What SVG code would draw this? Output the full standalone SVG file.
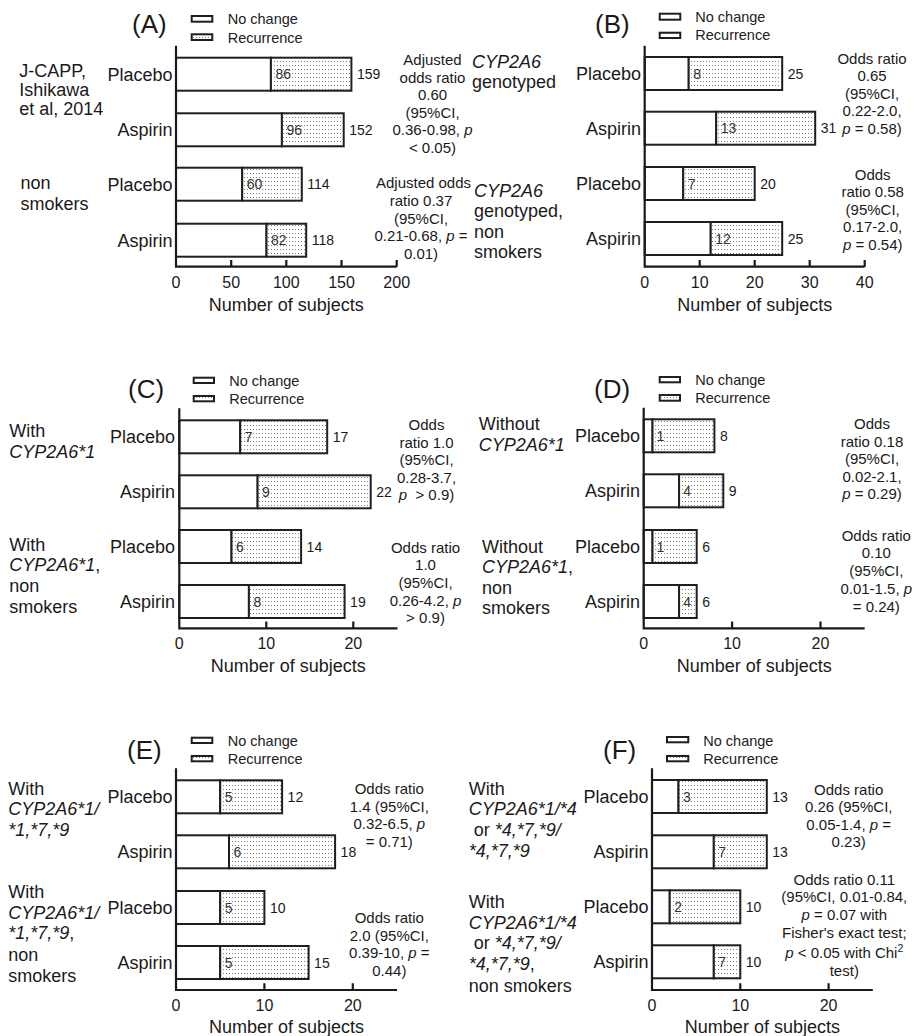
<svg xmlns="http://www.w3.org/2000/svg" width="916" height="1036" viewBox="0 0 916 1036">
<style>
text{font-family:"Liberation Sans",Arial,sans-serif;fill:#1a1a1a}
.ttl{font-size:26px}
.leg{font-size:14.5px;fill:#222}
.cat{font-size:18px;text-anchor:end}
.vin{font-size:14px;fill:#333}
.vt{font-size:14px}
.tk{font-size:16px;text-anchor:middle}
.xl{font-size:18px;text-anchor:middle}
.grp{font-size:18px}
.ann{font-size:15px;text-anchor:middle}
.i{font-style:italic}
.ax{stroke:#1a1a1a;stroke-width:2.2;fill:none}
.nc{fill:#fff;stroke:#1f1f1f;stroke-width:2}
.rc{fill:url(#dots);stroke:#1f1f1f;stroke-width:2}
</style>
<defs>
<pattern id="dots" patternUnits="userSpaceOnUse" width="3" height="4">
<rect width="3" height="4" fill="#fff"/>
<rect x="1" y="1" width="1" height="1" fill="#808080"/>
</pattern>
</defs>
<rect width="916" height="1036" fill="#fff"/>

<!-- Panel A -->
<g id="panel-A">
<text class="ttl" x="132" y="33.3">(A)</text>
<g id="legend-A">
<rect class="nc" x="191.7" y="16" width="20.6" height="5.7"/>
<rect class="rc" x="191.7" y="34.3" width="20.6" height="5.7"/>
<text class="leg" x="227.7" y="24.3">No change</text>
<text class="leg" x="227.7" y="42.7">Recurrence</text>
</g>
<g id="bars-A">
<rect class="nc" x="176" y="57.7" width="94.9" height="33"/><rect class="rc" x="270.9" y="57.7" width="80.5" height="33"/>
<rect class="nc" x="176" y="113.3" width="105.9" height="33"/><rect class="rc" x="281.9" y="113.3" width="61.8" height="33"/>
<rect class="nc" x="176" y="167.7" width="66.2" height="33"/><rect class="rc" x="242.2" y="167.7" width="59.6" height="33"/>
<rect class="nc" x="176" y="223.7" width="90.5" height="33"/><rect class="rc" x="266.5" y="223.7" width="39.7" height="33"/>
<text class="vin" x="275.4" y="79.2">86</text><text class="vt" x="356.9" y="79.2">159</text>
<text class="vin" x="286.4" y="134.8">96</text><text class="vt" x="349.2" y="134.8">152</text>
<text class="vin" x="246.7" y="189.2">60</text><text class="vt" x="307.3" y="189.2">114</text>
<text class="vin" x="271" y="245.2">82</text><text class="vt" x="311.7" y="245.2">118</text>
</g>
<g id="axes-A">
<path class="ax" d="M176 45.7V266.7H396.7M231.2 266.7v-6.7M286.3 266.7v-6.7M341.5 266.7v-6.7M396.7 266.7v-6.7"/>
<text class="tk" x="176" y="288.3">0</text><text class="tk" x="231.2" y="288.3">50</text><text class="tk" x="286.3" y="288.3">100</text><text class="tk" x="341.5" y="288.3">150</text><text class="tk" x="396.7" y="288.3">200</text>
<text class="xl" x="286.3" y="310.5">Number of subjects</text>
</g>
<text class="cat" x="172.5" y="80.7">Placebo</text>
<text class="cat" x="172.5" y="136.3">Aspirin</text>
<text class="cat" x="172.5" y="190.7">Placebo</text>
<text class="cat" x="172.5" y="246.7">Aspirin</text>
<text class="grp" x="19.3" y="76.5">J-CAPP,</text>
<text class="grp" x="19.3" y="95.5">Ishikawa</text>
<text class="grp" x="19.3" y="114.5">et al, 2014</text>
<text class="grp" x="20.5" y="189">non</text>
<text class="grp" x="20.5" y="210">smokers</text>
<text class="ann" x="432.5" y="65">Adjusted</text>
<text class="ann" x="432.5" y="82.6">odds ratio</text>
<text class="ann" x="432.5" y="100.2">0.60</text>
<text class="ann" x="432.5" y="117.8">(95%CI,</text>
<text class="ann" x="432.5" y="135.4">0.36-0.98, <tspan class="i">p</tspan></text>
<text class="ann" x="432.5" y="153">&lt; 0.05)</text>
<text class="ann" x="423.5" y="188.3">Adjusted odds</text>
<text class="ann" x="421" y="205.9">ratio 0.37</text>
<text class="ann" x="421" y="223.5">(95%CI,</text>
<text class="ann" x="421" y="241.1">0.21-0.68, <tspan class="i">p</tspan> =</text>
<text class="ann" x="421" y="258.7">0.01)</text>
</g>

<!-- Panel B -->
<g id="panel-B">
<text class="ttl" x="595" y="33.3">(B)</text>
<g id="legend-B">
<rect class="nc" x="659.7" y="13.7" width="20.6" height="6"/>
<rect class="rc" x="659.7" y="32.7" width="20.6" height="5.3"/>
<text class="leg" x="695.3" y="21.7">No change</text>
<text class="leg" x="695.3" y="40">Recurrence</text>
</g>
<g id="bars-B">
<rect class="nc" x="644.7" y="57" width="44" height="33"/><rect class="rc" x="688.7" y="57" width="93.5" height="33"/>
<rect class="nc" x="644.7" y="111.7" width="71.5" height="33"/><rect class="rc" x="716.2" y="111.7" width="99" height="33"/>
<rect class="nc" x="644.7" y="167" width="38.5" height="33"/><rect class="rc" x="683.2" y="167" width="71.5" height="33"/>
<rect class="nc" x="644.7" y="222" width="66" height="33"/><rect class="rc" x="710.7" y="222" width="71.5" height="33"/>
<text class="vin" x="693.2" y="78.5">8</text><text class="vt" x="787.7" y="78.5">25</text>
<text class="vin" x="720.7" y="133.2">13</text><text class="vt" x="820.7" y="133.2">31</text>
<text class="vin" x="687.7" y="188.5">7</text><text class="vt" x="760.2" y="188.5">20</text>
<text class="vin" x="715.2" y="243.5">12</text><text class="vt" x="787.7" y="243.5">25</text>
</g>
<g id="axes-B">
<path class="ax" d="M644.7 45.7V266.7H864.7M699.7 266.7v-6.7M754.7 266.7v-6.7M809.7 266.7v-6.7M864.7 266.7v-6.7"/>
<text class="tk" x="644.7" y="288.3">0</text><text class="tk" x="699.7" y="288.3">10</text><text class="tk" x="754.7" y="288.3">20</text><text class="tk" x="809.7" y="288.3">30</text><text class="tk" x="864.7" y="288.3">40</text>
<text class="xl" x="754.7" y="310.5">Number of subjects</text>
</g>
<text class="cat" x="641" y="80">Placebo</text>
<text class="cat" x="641" y="134.7">Aspirin</text>
<text class="cat" x="641" y="190">Placebo</text>
<text class="cat" x="641" y="245">Aspirin</text>
<text class="grp" x="472" y="68.3"><tspan class="i">CYP2A6</tspan></text>
<text class="grp" x="472" y="88.3">genotyped</text>
<text class="grp" x="474" y="196.7"><tspan class="i">CYP2A6</tspan></text>
<text class="grp" x="474" y="216.7">genotyped,</text>
<text class="grp" x="474" y="237.7">non</text>
<text class="grp" x="474" y="258">smokers</text>
<text class="ann" x="872" y="64">Odds ratio</text>
<text class="ann" x="872" y="81.4">0.65</text>
<text class="ann" x="872" y="98.8">(95%CI,</text>
<text class="ann" x="872" y="116.2">0.22-2.0,</text>
<text class="ann" x="872" y="133.6"><tspan class="i">p</tspan> = 0.58)</text>
<text class="ann" x="872.7" y="180">Odds</text>
<text class="ann" x="872.7" y="197.4">ratio 0.58</text>
<text class="ann" x="872.7" y="214.8">(95%CI,</text>
<text class="ann" x="872.7" y="232.2">0.17-2.0,</text>
<text class="ann" x="872.7" y="249.6"><tspan class="i">p</tspan> = 0.54)</text>
</g>

<!-- Panel C -->
<g id="panel-C">
<text class="ttl" x="128" y="398.3">(C)</text>
<g id="legend-C">
<rect class="nc" x="193.7" y="377.7" width="20.3" height="5.3"/>
<rect class="rc" x="193.7" y="396" width="20.3" height="5.3"/>
<text class="leg" x="229.3" y="386">No change</text>
<text class="leg" x="229.3" y="404">Recurrence</text>
</g>
<g id="bars-C">
<rect class="nc" x="179.3" y="420.3" width="60.9" height="33"/><rect class="rc" x="240.2" y="420.3" width="87" height="33"/>
<rect class="nc" x="179.3" y="475.3" width="78.3" height="33"/><rect class="rc" x="257.6" y="475.3" width="113.1" height="33"/>
<rect class="nc" x="179.3" y="530" width="52.2" height="33"/><rect class="rc" x="231.5" y="530" width="69.6" height="33"/>
<rect class="nc" x="179.3" y="585" width="69.6" height="33"/><rect class="rc" x="248.9" y="585" width="95.7" height="33"/>
<text class="vin" x="244.7" y="441.8">7</text><text class="vt" x="332.7" y="441.8">17</text>
<text class="vin" x="262.1" y="496.8">9</text><text class="vt" x="376.2" y="496.8">22</text>
<text class="vin" x="236" y="551.5">6</text><text class="vt" x="306.6" y="551.5">14</text>
<text class="vin" x="253.4" y="606.5">8</text><text class="vt" x="350.1" y="606.5">19</text>
</g>
<g id="axes-C">
<path class="ax" d="M179.3 408.3V628.3H397.5M266.3 628.3v-6.7M353.3 628.3v-6.7"/>
<text class="tk" x="179.3" y="649.3">0</text><text class="tk" x="266.3" y="649.3">10</text><text class="tk" x="353.3" y="649.3">20</text>
<text class="xl" x="288.3" y="672">Number of subjects</text>
</g>
<text class="cat" x="175" y="443.3">Placebo</text>
<text class="cat" x="175" y="498.3">Aspirin</text>
<text class="cat" x="175" y="553">Placebo</text>
<text class="cat" x="175" y="608">Aspirin</text>
<text class="grp" x="9.3" y="437.3">With</text>
<text class="grp" x="9.3" y="458.3"><tspan class="i">CYP2A6*1</tspan></text>
<text class="grp" x="9.3" y="550.7">With</text>
<text class="grp" x="9.3" y="571.3"><tspan class="i">CYP2A6*1</tspan>,</text>
<text class="grp" x="9.3" y="592.3">non</text>
<text class="grp" x="9.3" y="613.3">smokers</text>
<text class="ann" x="426.5" y="430">Odds</text>
<text class="ann" x="426.5" y="447.5">ratio 1.0</text>
<text class="ann" x="426.5" y="465">(95%CI,</text>
<text class="ann" x="426.5" y="482.5">0.28-3.7,</text>
<text class="ann" x="426.5" y="500" xml:space="preserve"><tspan class="i">p</tspan>  &gt; 0.9)</text>
<text class="ann" x="425.5" y="552.7">Odds ratio</text>
<text class="ann" x="425.5" y="570.3">1.0</text>
<text class="ann" x="425.5" y="588">(95%CI,</text>
<text class="ann" x="425.5" y="605.6">0.26-4.2, <tspan class="i">p</tspan></text>
<text class="ann" x="425.5" y="623.3">&gt; 0.9)</text>
</g>

<!-- Panel D -->
<g id="panel-D">
<text class="ttl" x="594" y="398.3">(D)</text>
<g id="legend-D">
<rect class="nc" x="659.7" y="377" width="20.3" height="5.3"/>
<rect class="rc" x="659.7" y="395" width="20.3" height="5.7"/>
<text class="leg" x="695.3" y="385">No change</text>
<text class="leg" x="695.3" y="402.7">Recurrence</text>
</g>
<g id="bars-D">
<rect class="nc" x="643.7" y="419.3" width="8.8" height="33"/><rect class="rc" x="652.5" y="419.3" width="61.9" height="33"/>
<rect class="nc" x="643.7" y="474.3" width="35.4" height="33"/><rect class="rc" x="679.1" y="474.3" width="44.2" height="33"/>
<rect class="nc" x="643.7" y="530" width="8.8" height="33"/><rect class="rc" x="652.5" y="530" width="44.2" height="33"/>
<rect class="nc" x="643.7" y="585" width="35.4" height="33"/><rect class="rc" x="679.1" y="585" width="17.6" height="33"/>
<text class="vin" x="656.5" y="440.8">1</text><text class="vt" x="719.9" y="440.8">8</text>
<text class="vin" x="683.3" y="495.8">4</text><text class="vt" x="728.8" y="495.8">9</text>
<text class="vin" x="656.5" y="551.5">1</text><text class="vt" x="702.2" y="551.5">6</text>
<text class="vin" x="683.3" y="606.5">4</text><text class="vt" x="702.2" y="606.5">6</text>
</g>
<g id="axes-D">
<path class="ax" d="M643.7 407.7V628.3H864.7M732.1 628.3v-6.7M820.5 628.3v-6.7"/>
<text class="tk" x="643.7" y="649.3">0</text><text class="tk" x="732.1" y="649.3">10</text><text class="tk" x="820.5" y="649.3">20</text>
<text class="xl" x="754.2" y="672">Number of subjects</text>
</g>
<text class="cat" x="640" y="442.3">Placebo</text>
<text class="cat" x="640" y="497.3">Aspirin</text>
<text class="cat" x="640" y="553">Placebo</text>
<text class="cat" x="640" y="608">Aspirin</text>
<text class="grp" x="478.7" y="430">Without</text>
<text class="grp" x="478.7" y="450.7"><tspan class="i">CYP2A6*1</tspan></text>
<text class="grp" x="482" y="552.7">Without</text>
<text class="grp" x="482" y="573.3"><tspan class="i">CYP2A6*1</tspan>,</text>
<text class="grp" x="482" y="594">non</text>
<text class="grp" x="482" y="614.3">smokers</text>
<text class="ann" x="872" y="429.3">Odds</text>
<text class="ann" x="872" y="446.8">ratio 0.18</text>
<text class="ann" x="872" y="464.3">(95%CI,</text>
<text class="ann" x="872" y="481.8">0.02-2.1,</text>
<text class="ann" x="872" y="499.3"><tspan class="i">p</tspan> = 0.29)</text>
<text class="ann" x="876.3" y="540.7">Odds ratio</text>
<text class="ann" x="876.3" y="558.4">0.10</text>
<text class="ann" x="876.3" y="576">(95%CI,</text>
<text class="ann" x="876.3" y="593.6">0.01-1.5, <tspan class="i">p</tspan></text>
<text class="ann" x="876.3" y="611.5">= 0.24)</text>
</g>

<!-- Panel E -->
<g id="panel-E">
<text class="ttl" x="127" y="759.3">(E)</text>
<g id="legend-E">
<rect class="nc" x="191.7" y="737.7" width="20.6" height="5.3"/>
<rect class="rc" x="191.7" y="756" width="20.6" height="5.3"/>
<text class="leg" x="227.7" y="745.7">No change</text>
<text class="leg" x="227.7" y="764">Recurrence</text>
</g>
<g id="bars-E">
<rect class="nc" x="176" y="780.3" width="44.2" height="33"/><rect class="rc" x="220.2" y="780.3" width="61.9" height="33"/>
<rect class="nc" x="176" y="835.3" width="53" height="33"/><rect class="rc" x="229" y="835.3" width="106.1" height="33"/>
<rect class="nc" x="176" y="891" width="44.2" height="33"/><rect class="rc" x="220.2" y="891" width="44.2" height="33"/>
<rect class="nc" x="176" y="946" width="44.2" height="33"/><rect class="rc" x="220.2" y="946" width="88.4" height="33"/>
<text class="vin" x="224.7" y="801.8">5</text><text class="vt" x="287.6" y="801.8">12</text>
<text class="vin" x="233.5" y="856.8">6</text><text class="vt" x="340.6" y="856.8">18</text>
<text class="vin" x="224.7" y="912.5">5</text><text class="vt" x="269.9" y="912.5">10</text>
<text class="vin" x="224.7" y="967.5">5</text><text class="vt" x="314.1" y="967.5">15</text>
</g>
<g id="axes-E">
<path class="ax" d="M176 768.3V990H397M264.4 990v-6.7M352.8 990v-6.7"/>
<text class="tk" x="176" y="1010.5">0</text><text class="tk" x="264.4" y="1010.5">10</text><text class="tk" x="352.8" y="1010.5">20</text>
<text class="xl" x="286.5" y="1033">Number of subjects</text>
</g>
<text class="cat" x="172.5" y="803.3">Placebo</text>
<text class="cat" x="172.5" y="858.3">Aspirin</text>
<text class="cat" x="172.5" y="914">Placebo</text>
<text class="cat" x="172.5" y="969">Aspirin</text>
<text class="grp" x="8.3" y="795">With</text>
<text class="grp" x="8.3" y="815.3"><tspan class="i">CYP2A6*1/</tspan></text>
<text class="grp" x="8.3" y="835.7"><tspan class="i">*1,*7,*9</tspan></text>
<text class="grp" x="8.3" y="898.3">With</text>
<text class="grp" x="8.3" y="918.7"><tspan class="i">CYP2A6*1/</tspan></text>
<text class="grp" x="8.3" y="939.3"><tspan class="i">*1,*7,*9</tspan>,</text>
<text class="grp" x="8.3" y="960.5">non</text>
<text class="grp" x="8.3" y="981.5">smokers</text>
<text class="ann" x="389.3" y="794">Odds ratio</text>
<text class="ann" x="389.3" y="811.6">1.4 (95%CI,</text>
<text class="ann" x="389.3" y="829.2">0.32-6.5, <tspan class="i">p</tspan></text>
<text class="ann" x="389.3" y="846.8">= 0.71)</text>
<text class="ann" x="389.3" y="922.7">Odds ratio</text>
<text class="ann" x="389.3" y="940.5">2.0 (95%CI,</text>
<text class="ann" x="389.3" y="958.3">0.39-10, <tspan class="i">p</tspan> =</text>
<text class="ann" x="389.3" y="976">0.44)</text>
</g>

<!-- Panel F -->
<g id="panel-F">
<text class="ttl" x="603" y="759.3">(F)</text>
<g id="legend-F">
<rect class="nc" x="667" y="737" width="21.3" height="5.3"/>
<rect class="rc" x="667" y="756" width="21.3" height="5.3"/>
<text class="leg" x="703.3" y="745.7">No change</text>
<text class="leg" x="703.3" y="764">Recurrence</text>
</g>
<g id="bars-F">
<rect class="nc" x="652" y="780" width="26.5" height="33"/><rect class="rc" x="678.5" y="780" width="88.3" height="33"/>
<rect class="nc" x="652" y="835.3" width="61.8" height="33"/><rect class="rc" x="713.8" y="835.3" width="53" height="33"/>
<rect class="nc" x="652" y="890.3" width="17.7" height="33"/><rect class="rc" x="669.7" y="890.3" width="70.6" height="33"/>
<rect class="nc" x="652" y="945.3" width="61.8" height="33"/><rect class="rc" x="713.8" y="945.3" width="26.5" height="33"/>
<text class="vin" x="683" y="801.5">3</text><text class="vt" x="772.3" y="801.5">13</text>
<text class="vin" x="718.3" y="856.8">7</text><text class="vt" x="772.3" y="856.8">13</text>
<text class="vin" x="674.2" y="911.8">2</text><text class="vt" x="745.8" y="911.8">10</text>
<text class="vin" x="718.3" y="966.8">7</text><text class="vt" x="745.8" y="966.8">10</text>
</g>
<g id="axes-F">
<path class="ax" d="M652 768.3V990H872.8M740.3 990v-6.7M828.6 990v-6.7"/>
<text class="tk" x="652" y="1010.5">0</text><text class="tk" x="740.3" y="1010.5">10</text><text class="tk" x="828.6" y="1010.5">20</text>
<text class="xl" x="762.4" y="1033">Number of subjects</text>
</g>
<text class="cat" x="648.5" y="803">Placebo</text>
<text class="cat" x="648.5" y="858.3">Aspirin</text>
<text class="cat" x="648.5" y="913.3">Placebo</text>
<text class="cat" x="648.5" y="968.3">Aspirin</text>
<text class="grp" x="468.7" y="795">With</text>
<text class="grp" x="468.7" y="815.3"><tspan class="i">CYP2A6*1/*4</tspan></text>
<text class="grp" x="473.7" y="836">or <tspan class="i">*4,*7,*9/</tspan></text>
<text class="grp" x="468.7" y="856.7"><tspan class="i">*4,*7,*9</tspan></text>
<text class="grp" x="468.7" y="908.3">With</text>
<text class="grp" x="468.7" y="928.7"><tspan class="i">CYP2A6*1/*4</tspan></text>
<text class="grp" x="473.7" y="949.3">or <tspan class="i">*4,*7,*9/</tspan></text>
<text class="grp" x="468.7" y="970"><tspan class="i">*4,*7,*9</tspan>,</text>
<text class="grp" x="468.7" y="991.5">non smokers</text>
<text class="ann" x="848.7" y="795">Odds ratio</text>
<text class="ann" x="848.7" y="812.4">0.26 (95%CI,</text>
<text class="ann" x="848.7" y="829.8">0.05-1.4, <tspan class="i">p</tspan> =</text>
<text class="ann" x="848.7" y="847">0.23)</text>
<text class="ann" x="844.3" y="884.5">Odds ratio 0.11</text>
<text class="ann" x="844.3" y="902.3">(95%CI, 0.01-0.84,</text>
<text class="ann" x="844.3" y="920.1"><tspan class="i">p</tspan> = 0.07 with</text>
<text class="ann" x="844.3" y="938">Fisher's exact test;</text>
<text class="ann" x="844.3" y="957.5"><tspan class="i">p</tspan> &lt; 0.05 with Chi<tspan font-size="10.5px" dy="-6">2</tspan></text>
<text class="ann" x="844.3" y="976">test)</text>
</g>
</svg>
